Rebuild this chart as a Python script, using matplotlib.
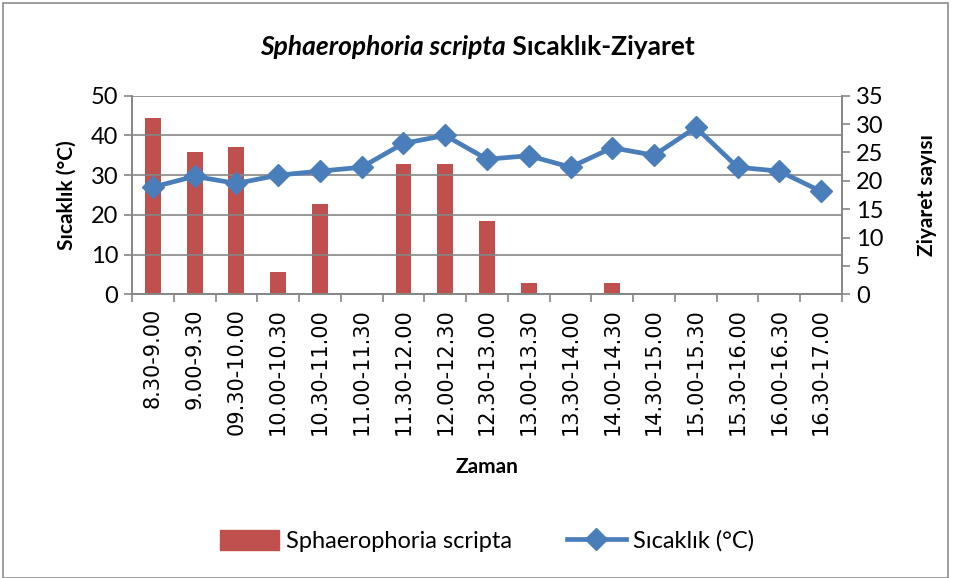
import matplotlib
matplotlib.use('Agg')
import numpy as np
import matplotlib.pyplot as plt
from matplotlib.patches import Rectangle
from matplotlib.lines import Line2D

zaman = ['8.30-9.00', '9.00-9.30', '09.30-10.00', '10.00-10.30', '10.30-11.00',
         '11.00-11.30', '11.30-12.00', '12.00-12.30', '12.30-13.00', '13.00-13.30',
         '13.30-14.00', '14.00-14.30', '14.30-15.00', '15.00-15.30', '15.30-16.00',
         '16.00-16.30', '16.30-17.00']
ziyaret = [31, 25, 26, 4, 16, 0, 23, 23, 13, 2, 0, 2, 0, 0, 0, 0, 0]
sicaklik = [27, 29.7, 27.9, 30, 31, 32, 38, 40, 34, 34.9, 32, 36.9, 35, 42, 32, 31, 25.9]

plt.rcParams['font.family'] = ['Lato', 'DejaVu Sans']
BAR = '#C0504D'
LINE = '#4A7EBB'
GRID = '#868686'

fig = plt.figure(figsize=(9.55, 5.78), dpi=100)
W, H = 955.0, 578.0
ax = fig.add_axes([132 / W, 1 - 294.3 / H, 710 / W, 198.6 / H])
ax2 = ax.twinx()

x = np.arange(len(zaman))

# temperature on left axis, visits on right axis
ax2.bar(x, ziyaret, width=0.38, color=BAR, zorder=2)
ax.plot(x, sicaklik, color=LINE, lw=3.4, marker='D', markersize=11, zorder=3)
ax.set_zorder(ax2.get_zorder() + 1)
ax.patch.set_visible(False)

ax.set_xlim(-0.5, len(zaman) - 0.5)
ax.set_ylim(0, 50)
ax.set_yticks(np.arange(0, 51, 10))
ax2.set_ylim(0, 35)
ax2.set_yticks(np.arange(0, 36, 5))

ax.set_xticks(x)
ax.set_xticklabels(zaman, rotation=90, fontsize=15, family=['DejaVu Sans'])
ax.set_xticks(np.arange(-0.5, len(zaman), 1), minor=True)
ax.tick_params(axis='x', which='major', length=0, pad=10)
ax.tick_params(axis='x', which='minor', length=6, color=GRID, width=1.2, direction='out')
ax.tick_params(axis='y', length=6, color=GRID, width=1.2, labelsize=17, pad=4)
ax2.tick_params(axis='y', length=6, color=GRID, width=1.2, labelsize=17, pad=4)

ax.grid(axis='y', color=GRID, lw=1.2, zorder=0)
ax2.set_axisbelow(True)
for a in (ax, ax2):
    a.spines['top'].set_visible(False)
    for s in ['left', 'right', 'bottom']:
        a.spines[s].set_color(GRID)
        a.spines[s].set_linewidth(1.2)

ax.set_ylabel('Sıcaklık (°C)', fontsize=15, fontweight='bold', labelpad=10)
ax2.set_ylabel('Ziyaret sayısı', fontsize=15, fontweight='bold', labelpad=24, rotation=90)
ax.set_xlabel('Zaman', fontsize=15, fontweight='bold', labelpad=16)

# title: italic species name + bold rest
t1 = fig.text(0.5, 1 - 47 / H, 'Sphaerophoria scripta', fontsize=19, fontweight='bold',
              fontstyle='italic', ha='right', va='center')
fig.canvas.draw()
w = t1.get_window_extent().width
t2 = fig.text(0.5, 1 - 47 / H, ' Sıcaklık-Ziyaret', fontsize=19, fontweight='bold',
              ha='left', va='center')
w2 = t2.get_window_extent().width
shift = (w - w2) / 2 / fig.bbox.width
t1.set_x(0.5 + shift)
t2.set_x(0.5 + shift)

handles = [Rectangle((0, 0), 1, 1, color=BAR),
           Line2D([], [], color=LINE, lw=3.4, marker='D', markersize=11)]
fig.legend(handles, ['Sphaerophoria scripta', 'Sıcaklık (°C)'], loc='center',
           bbox_to_anchor=(487 / W, 1 - 541 / H), ncol=2, frameon=False, fontsize=17,
           handlelength=2.5, handleheight=0.9, columnspacing=2.3, handletextpad=0.3)

fig.patches.append(Rectangle((3 / W, 0), 945 / W, 1 - 3 / H, transform=fig.transFigure,
                             fill=False, edgecolor='#8c8c8c', lw=1.2))

plt.savefig('out.png', dpi=100)
